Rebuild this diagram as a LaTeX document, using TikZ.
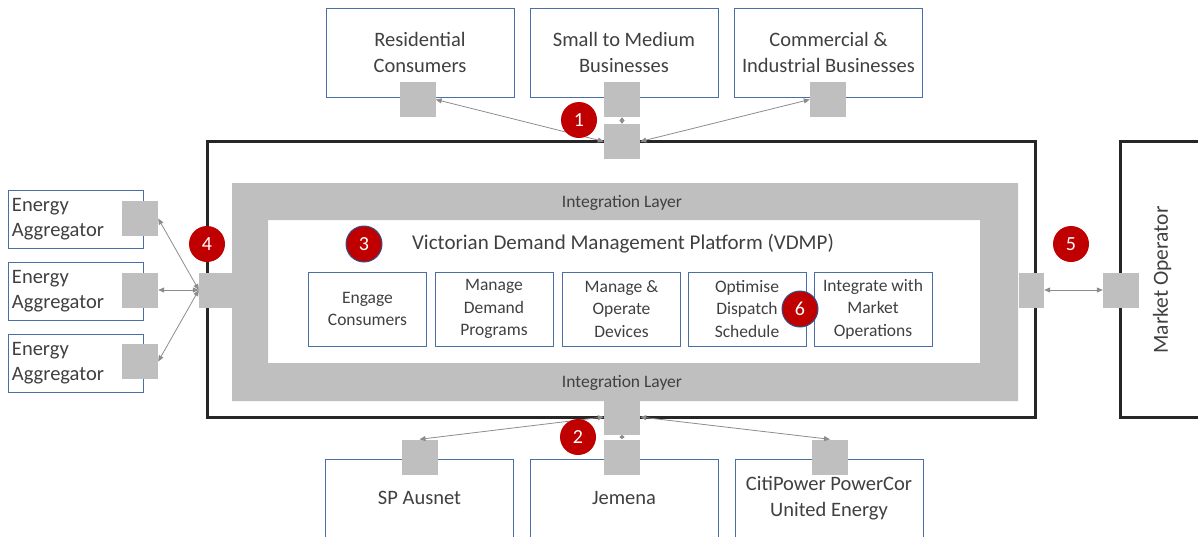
\documentclass[tikz,border=0pt]{standalone}
\usepackage{fontspec}
\setmainfont{Carlito}
\usetikzlibrary{arrows.meta}
\definecolor{txt}{HTML}{404040}
\definecolor{boxblue}{HTML}{4A6FA5}
\definecolor{tabgray}{HTML}{BFBFBF}
\definecolor{frameblk}{HTML}{262626}
\definecolor{conngray}{HTML}{8C8C8C}
\definecolor{badgered}{HTML}{C00000}
\definecolor{badgeline}{HTML}{2F528F}
\tikzset{
  party/.style={draw=boxblue, line width=1pt, fill=white, text=txt, align=center,
    minimum width=188pt, minimum height=89pt, inner sep=0pt, font=\fontsize{20.5}{25.5}\selectfont},
  lower/.style={party, minimum height=78pt},
  aggbox/.style={draw=boxblue, line width=1pt, fill=white, text=txt, align=left,
    minimum width=135pt, minimum height=58pt, inner sep=0pt, font=\fontsize{20.5}{25}\selectfont},
  module/.style={draw=boxblue, line width=1pt, fill=white, text=txt, align=center,
    minimum width=118pt, minimum height=74pt, inner sep=0pt, font=\fontsize{17.5}{22.5}\selectfont},
  tab/.style={fill=tabgray, draw=none, minimum width=36pt, minimum height=35pt, inner sep=0pt},
  conn/.style={draw=conngray, line width=0.8pt, {Triangle[length=6pt,width=5pt]}-{Triangle[length=6pt,width=5pt]}},
  shortconn/.style={draw=conngray, line width=0.8pt, {Triangle[length=3.5pt,width=5pt]}-{Triangle[length=3.5pt,width=5pt]}},
  badge/.style={circle, fill=badgered, text=white, minimum size=36pt, inner sep=0pt,
    font=\fontsize{20}{20}\selectfont},
  badgeb/.style={badge, draw=badgeline, line width=1pt},
  frame/.style={draw=frameblk, line width=3pt},
  label/.style={text=txt, font=\fontsize{17.5}{20}\selectfont, inner sep=0pt}
}
\begin{document}
\begin{tikzpicture}[x=1pt,y=-1pt]
\path[use as bounding box] (0,0) rectangle (1198,536);
\clip (0,0) rectangle (1198,536);

% platform boundary and market operator boundary
\draw[frame] (207,141) rectangle (1035,417);
\draw[frame] (1120,141) rectangle (1215,417);
\node[text=txt, rotate=90, font=\fontsize{21.5}{24}\selectfont] (mo) at (1162,280) {Market Operator};

% integration layer ring
\fill[tabgray, even odd rule] (232,183) rectangle (1018,401) (268,220) rectangle (980,363);
\node[label] (iltop) at (622,203) {Integration Layer};
\node[label] (ilbot) at (622,383) {Integration Layer};

% platform title and capabilities
\node[text=txt, font=\fontsize{21}{24}\selectfont] (vdmp) at (623,244) {Victorian Demand Management Platform (VDMP)};
\node[module] (m1) at (367.5,309) {Engage\\Consumers};
\node[module] (m2) at (494,309) {Manage\\Demand\\Programs};
\node[module] (m3) at (621.5,309) {Manage \&\\Operate\\Devices};
\node[module] (m4) at (747,309) {Optimise\\Dispatch\\Schedule};
\node[module] (m5) at (873,309) {Integrate with\\Market\\Operations};

% consumer segments
\node[party] (res) at (420,52.5) {Residential\\Consumers};
\node[party] (smb) at (624,52.5) {Small to Medium\\Businesses};
\node[party] (ci) at (828.5,52.5) {Commercial \&\\Industrial Businesses};

% distribution networks
\node[lower] (spa) at (419.5,498) {SP Ausnet};
\node[lower] (jem) at (624,498) {Jemena};
\node[lower] (cpu) at (829,498) {CitiPower PowerCor\\United Energy};

% aggregators
\node[aggbox, text width=127pt] (ag1) at (75.5,219) {Energy\\Aggregator};
\node[aggbox, text width=127pt] (ag2) at (75.5,291) {Energy\\Aggregator};
\node[aggbox, text width=127pt] (ag3) at (75.5,363) {Energy\\Aggregator};

% interface tabs
\node[tab] (tres) at (417.5,99.5) {};
\node[tab] (tsmb) at (622,99.5) {};
\node[tab] (tci) at (828,99.5) {};
\node[tab] (ptop) at (622,141.5) {};
\node[tab] (pbot) at (622,417) {};
\node[tab] (tspa) at (419.5,457) {};
\node[tab] (tjem) at (622,457) {};
\node[tab] (tcpu) at (830,457) {};
\node[tab, minimum width=33pt] (pleft) at (215.5,290) {};
\node[tab, minimum width=25pt] (pright) at (1031.5,290) {};
\node[tab] (tmo) at (1121,290) {};
\node[tab] (tag1) at (140,218.5) {};
\node[tab] (tag2) at (140,290) {};
\node[tab] (tag3) at (140,361.5) {};

% connectors
\draw[conn] (ptop.west) -- (tres.east);
\draw[conn] (ptop.east) -- (tci.west);
\draw[shortconn] (tsmb.south) -- (ptop.north);
\draw[conn] (pbot.west) -- (tspa.north);
\draw[conn] (pbot.east) -- (tcpu.north);
\draw[shortconn] (pbot.south) -- (tjem.north);
\draw[conn] (pleft.west) -- (tag1.east);
\draw[conn] (pleft.west) -- (tag2.east);
\draw[conn] (pleft.west) -- (tag3.east);
\draw[conn] (pright.east) -- (tmo.west);

% numbered badges
\node[badge] (b1) at (579,120) {1};
\node[badge] (b2) at (578,437) {2};
\node[badgeb] (b3) at (364,244) {3};
\node[badge] (b4) at (207,244) {4};
\node[badge] (b5) at (1071,244) {5};
\node[badgeb] (b6) at (800,309) {6};
\end{tikzpicture}
\end{document}
